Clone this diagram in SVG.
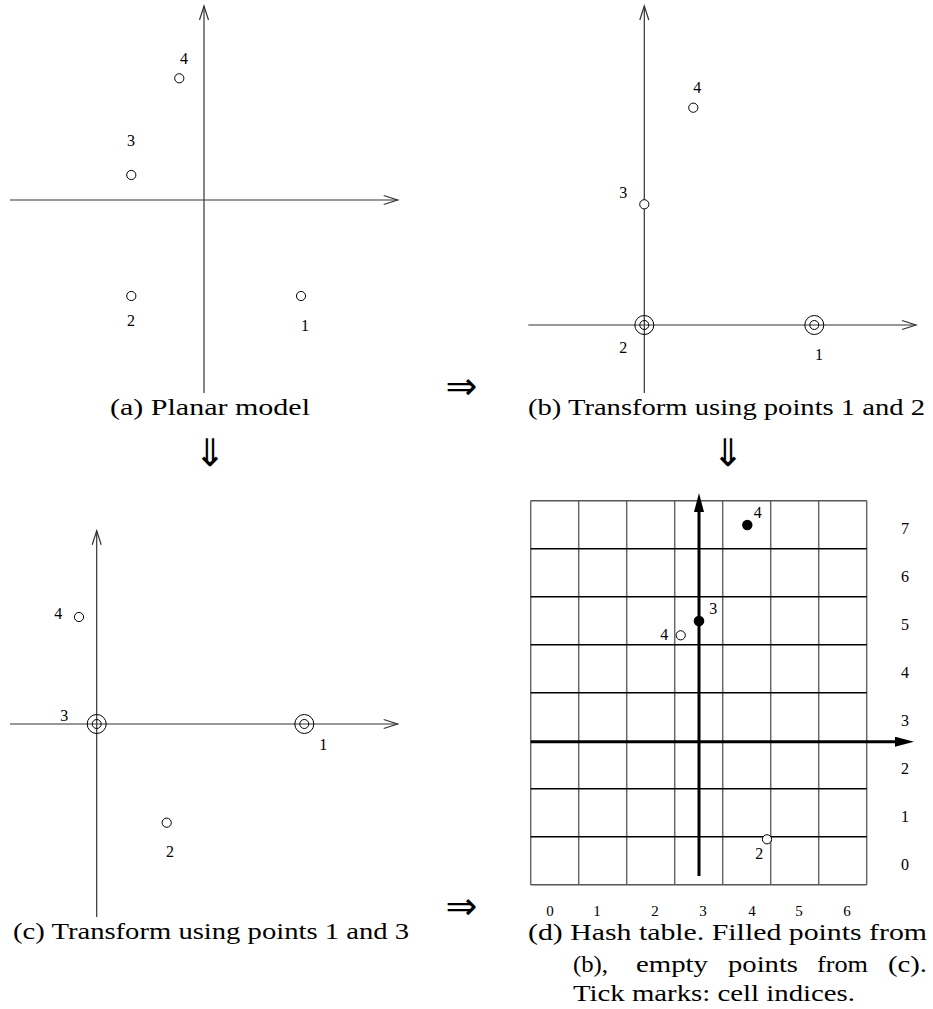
<svg xmlns="http://www.w3.org/2000/svg" width="933" height="1009" viewBox="0 0 933 1009">
<style>
.ax{stroke:#333;stroke-width:1.2;fill:none}
.pt{fill:#fff;stroke:#000;stroke-width:1}
.fp{fill:#000;stroke:none}
.lb{font-family:'Liberation Serif',serif;font-size:16px;fill:#000;text-anchor:middle}
.sm{font-family:'Liberation Serif',serif;font-size:15px;fill:#000;text-anchor:middle}
.cap{font-family:'Liberation Serif',serif;font-size:24px;fill:#000}
.sym{font-family:'DejaVu Sans',sans-serif;fill:#000;text-anchor:middle}
.gv{stroke:#6a6a6a;stroke-width:1.5}
.gh{stroke:#000;stroke-width:1.5}
.gb{stroke:#555;stroke-width:1.5}
.tax{stroke:#000;stroke-width:3}
</style>
<defs>
<marker id="open" viewBox="0 0 14 10" refX="14" refY="5" markerWidth="14" markerHeight="10" markerUnits="userSpaceOnUse" orient="auto" overflow="visible">
<path d="M0,0.5 L14,5 L0,9.5" fill="none" stroke="#333" stroke-width="1.2"/>
</marker>
<marker id="solid" viewBox="0 0 19 10" refX="5" refY="5" markerWidth="19" markerHeight="10" markerUnits="userSpaceOnUse" orient="auto">
<path d="M0,0 L19,5 L0,10 z" fill="#000"/>
</marker>
</defs>

<g id="panel-a">
<g id="a-axes" class="connectors">
<line class="ax" x1="204" y1="393" x2="204" y2="6" marker-end="url(#open)"/>
<line class="ax" x1="10" y1="200" x2="397.7" y2="200" marker-end="url(#open)"/>
</g>
<g id="a-p4"><circle class="pt" cx="179.3" cy="78.3" r="4.6"/><text class="lb" x="184" y="64">4</text></g>
<g id="a-p3"><circle class="pt" cx="131.3" cy="175" r="4.6"/><text class="lb" x="131" y="146">3</text></g>
<g id="a-p2"><circle class="pt" cx="131.3" cy="296" r="4.6"/><text class="lb" x="131" y="326">2</text></g>
<g id="a-p1"><circle class="pt" cx="301" cy="296" r="4.6"/><text class="lb" x="305" y="331">1</text></g>
<text class="cap" x="110" y="415" textLength="200" lengthAdjust="spacingAndGlyphs">(a) Planar model</text>
</g>

<g id="panel-b">
<g id="b-axes" class="connectors">
<line class="ax" x1="644.3" y1="393" x2="644.3" y2="6" marker-end="url(#open)"/>
<line class="ax" x1="528.3" y1="325" x2="916" y2="325" marker-end="url(#open)"/>
</g>
<g id="b-p4"><circle class="pt" cx="693.3" cy="107.7" r="4.6"/><text class="lb" x="697.3" y="92.7">4</text></g>
<g id="b-p3"><circle class="pt" cx="644.3" cy="204.3" r="4.6"/><text class="lb" x="623.3" y="198.3">3</text></g>
<g id="b-p2"><circle cx="644.3" cy="325" r="9.5" fill="none" stroke="#000"/><circle cx="644.3" cy="325" r="4.5" fill="none" stroke="#000"/><text class="lb" x="623.3" y="352.7">2</text></g>
<g id="b-p1"><circle cx="814.3" cy="325" r="9.5" fill="none" stroke="#000"/><circle cx="814.3" cy="325" r="4.5" fill="none" stroke="#000"/><text class="lb" x="819" y="360">1</text></g>
<text class="cap" x="528" y="415" textLength="397" lengthAdjust="spacingAndGlyphs">(b) Transform using points 1 and 2</text>
</g>

<g id="panel-c">
<g id="c-axes" class="connectors">
<line class="ax" x1="96.7" y1="917" x2="96.7" y2="530.7" marker-end="url(#open)"/>
<line class="ax" x1="10" y1="724" x2="397.7" y2="724" marker-end="url(#open)"/>
</g>
<g id="c-p4"><circle class="pt" cx="79" cy="617" r="4.6"/><text class="lb" x="58.3" y="619.3">4</text></g>
<g id="c-p3"><circle cx="96.7" cy="724" r="9.5" fill="none" stroke="#000"/><circle cx="96.7" cy="724" r="4.5" fill="none" stroke="#000"/><text class="lb" x="64.3" y="721">3</text></g>
<g id="c-p1"><circle cx="304.3" cy="724" r="9.5" fill="none" stroke="#000"/><circle cx="304.3" cy="724" r="4.5" fill="none" stroke="#000"/><text class="lb" x="323.3" y="750">1</text></g>
<g id="c-p2"><circle class="pt" cx="166.7" cy="822.7" r="4.6"/><text class="lb" x="170" y="856.7">2</text></g>
<text class="cap" x="13" y="939" textLength="396" lengthAdjust="spacingAndGlyphs">(c) Transform using points 1 and 3</text>
</g>

<g id="panel-d">
<g id="d-grid">
<line class="gv" x1="530.7" y1="500.7" x2="530.7" y2="884.7"/>
<line class="gv" x1="578.7" y1="500.7" x2="578.7" y2="884.7"/>
<line class="gv" x1="626.7" y1="500.7" x2="626.7" y2="884.7"/>
<line class="gv" x1="674.7" y1="500.7" x2="674.7" y2="884.7"/>
<line class="gv" x1="722.7" y1="500.7" x2="722.7" y2="884.7"/>
<line class="gv" x1="770.7" y1="500.7" x2="770.7" y2="884.7"/>
<line class="gv" x1="818.7" y1="500.7" x2="818.7" y2="884.7"/>
<line class="gv" x1="866.7" y1="500.7" x2="866.7" y2="884.7"/>
<line class="gb" x1="530.7" y1="500.7" x2="866.7" y2="500.7"/>
<line class="gh" x1="530.7" y1="548.7" x2="866.7" y2="548.7"/>
<line class="gh" x1="530.7" y1="596.7" x2="866.7" y2="596.7"/>
<line class="gh" x1="530.7" y1="644.7" x2="866.7" y2="644.7"/>
<line class="gh" x1="530.7" y1="692.7" x2="866.7" y2="692.7"/>
<line class="gh" x1="530.7" y1="788.7" x2="866.7" y2="788.7"/>
<line class="gh" x1="530.7" y1="836.7" x2="866.7" y2="836.7"/>
<line class="gb" x1="530.7" y1="884.7" x2="866.7" y2="884.7"/>
</g>
<g id="d-axes" class="connectors">
<line class="tax" x1="699" y1="876" x2="699" y2="507" marker-end="url(#solid)"/>
<line class="tax" x1="530.7" y1="741.7" x2="900" y2="741.7" marker-end="url(#solid)"/>
</g>
<g id="d-b4"><circle class="fp" cx="747.3" cy="525" r="5.2"/><text class="lb" x="757.7" y="518.3">4</text></g>
<g id="d-b3"><circle class="fp" cx="699" cy="621" r="5.3"/><text class="lb" x="713.3" y="614">3</text></g>
<g id="d-c4"><circle class="pt" cx="680.7" cy="635.3" r="4.6"/><text class="lb" x="664.3" y="640">4</text></g>
<g id="d-c2"><circle class="pt" cx="767" cy="839.3" r="4.6"/><text class="lb" x="759.3" y="859.3">2</text></g>
<g id="d-rows">
<text class="lb" x="905" y="534">7</text>
<text class="lb" x="905" y="582">6</text>
<text class="lb" x="905" y="630">5</text>
<text class="lb" x="905" y="678">4</text>
<text class="lb" x="905" y="726">3</text>
<text class="lb" x="905" y="774">2</text>
<text class="lb" x="905" y="822">1</text>
<text class="lb" x="905" y="870">0</text>
</g>
<g id="d-cols">
<text class="sm" x="550" y="916">0</text>
<text class="sm" x="597" y="916">1</text>
<text class="sm" x="655" y="916">2</text>
<text class="sm" x="703" y="916">3</text>
<text class="sm" x="752" y="916">4</text>
<text class="sm" x="799" y="916">5</text>
<text class="sm" x="847" y="916">6</text>
</g>
<g id="d-caption">
<text class="cap" x="528" y="940" textLength="399" lengthAdjust="spacingAndGlyphs">(d) Hash table. Filled points from</text>
<text class="cap" x="573" y="972" textLength="35" lengthAdjust="spacingAndGlyphs">(b),</text>
<text class="cap" x="636" y="972" textLength="72" lengthAdjust="spacingAndGlyphs">empty</text>
<text class="cap" x="728" y="972" textLength="70" lengthAdjust="spacingAndGlyphs">points</text>
<text class="cap" x="817" y="972" textLength="51" lengthAdjust="spacingAndGlyphs">from</text>
<text class="cap" x="888" y="972" textLength="39" lengthAdjust="spacingAndGlyphs">(c).</text>
<text class="cap" x="573" y="1001" textLength="282" lengthAdjust="spacingAndGlyphs">Tick marks: cell indices.</text>
</g>
</g>

<g id="flow-arrows">
<text class="sym" x="461.5" y="399" font-size="38">⇒</text>
<text class="sym" x="461.5" y="919" font-size="38">⇒</text>
<text class="sym" x="210" y="466" font-size="38">⇓</text>
<text class="sym" x="728" y="466" font-size="38">⇓</text>
</g>
</svg>
